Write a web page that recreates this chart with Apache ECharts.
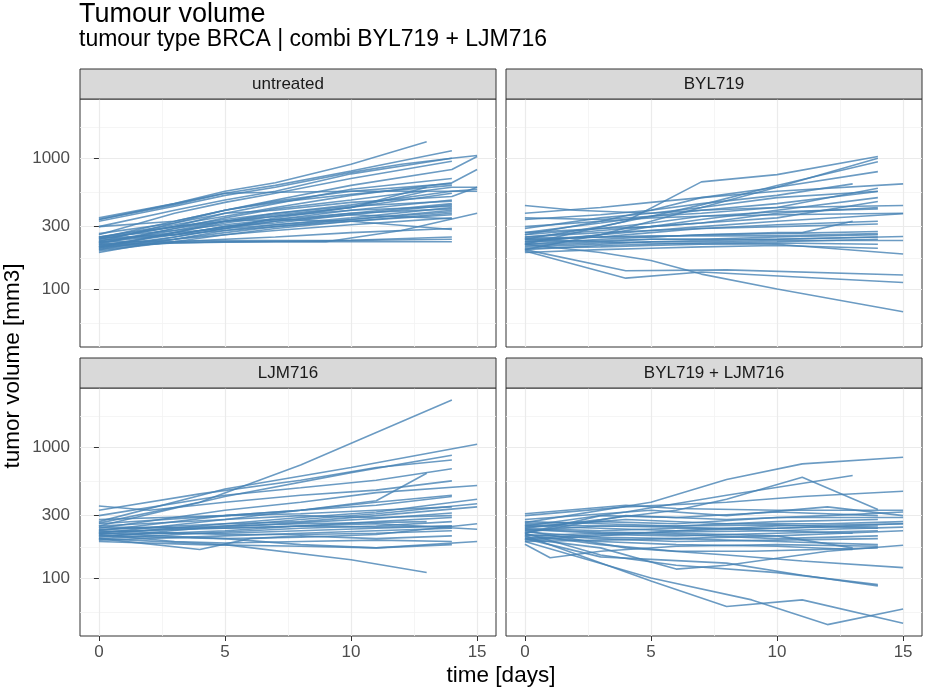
<!DOCTYPE html>
<html>
<head>
<meta charset="utf-8">
<title>Tumour volume</title>
<script src="https://cdn.jsdelivr.net/npm/echarts@6.0.0/dist/echarts.min.js"></script>
<style>
  html, body { margin: 0; padding: 0; background: #fff; }
  #chart { width: 926px; height: 691px; }
</style>
</head>
<body>
<div id="chart"></div>
<script>
// facet labels, same order as the panels below
let panelNames = ['untreated', 'BYL719', 'LJM716', 'BYL719 + LJM716'];

// one array per mouse, points are [day, tumour volume in mm3]
let untreated = [
  [[0,350],[3,450],[5,560],[7,650],[10,900],[13,1340]],
  [[0,340],[3,440],[5,540],[7,620],[10,800],[14,1140]],
  [[0,330],[3,430],[5,520],[7,600],[10,780],[12,900],[14,1000],[15,1050]],
  [[0,300],[3,400],[5,480],[7,560],[10,760],[14,1000]],
  [[0,260],[3,380],[5,460],[7,540],[10,700],[14,950]],
  [[0,230],[3,320],[5,400],[7,480],[10,620],[14,820],[15,1030]],
  [[0,250],[3,310],[5,360],[7,420],[10,520],[14,650],[15,820]],
  [[0,220],[3,290],[5,350],[7,410],[10,480],[14,600],[15,600]],
  [[0,240],[3,300],[5,340],[7,380],[10,440],[14,560],[15,560]],
  [[0,210],[3,270],[5,320],[7,360],[10,420],[14,540]],
  [[0,225],[3,280],[5,310],[7,340],[10,400],[14,480]],
  [[0,200],[3,250],[5,290],[7,330],[10,380],[14,450]],
  [[0,215],[3,260],[5,300],[7,320],[10,370],[14,440]],
  [[0,190],[3,240],[5,280],[7,310],[10,350],[14,420]],
  [[0,205],[3,240],[5,270],[7,300],[10,340],[14,400]],
  [[0,235],[3,270],[5,290],[7,310],[10,340],[14,390]],
  [[0,195],[3,230],[5,260],[7,290],[10,330],[14,380]],
  [[0,245],[3,260],[5,280],[7,300],[10,330],[14,370]],
  [[0,220],[3,240],[5,260],[7,280],[10,310],[14,350]],
  [[0,200],[3,230],[5,240],[7,250],[10,270],[14,290]],
  [[0,210],[3,225],[5,230],[7,232],[10,235],[14,240]],
  [[0,230],[3,232],[5,235],[7,235],[10,236],[14,250]],
  [[0,220],[3,228],[5,230],[7,230],[10,230],[14,230]],
  [[0,215],[3,225],[5,228],[7,230],[9,230],[12,280],[15,380]],
  [[0,250],[3,300],[5,330],[7,340],[10,330],[14,285]],
  [[0,340],[3,450],[5,540],[7,550],[10,560],[14,560],[15,580]],
  [[0,245],[3,330],[5,400],[7,460],[10,530],[14,620]],
  [[0,265],[3,320],[5,380],[7,400],[10,460],[14,510],[15,600]],
  [[0,205],[3,270],[5,330],[7,380],[10,430],[14,470]],
  [[0,225],[3,290],[5,330],[7,360],[10,400],[14,430]],
  [[0,235],[3,260],[5,300],[7,340],[10,380],[14,410]],
  [[0,250],[3,280],[5,330],[7,370],[10,420],[13,600]],
  [[0,210],[3,250],[5,290],[7,350],[10,420],[13,560]],
  [[0,240],[3,300],[5,380],[7,450],[10,580],[14,700]],
  [[0,300],[3,330],[5,400],[7,470],[10,560],[14,640]],
  [[0,228],[3,260],[5,300],[7,330],[10,370],[14,345]]
];

let byl719 = [
  [[0,220],[4,330],[7,660],[10,750],[14,1030]],
  [[0,200],[3,260],[5,330],[7,420],[10,600],[14,1000]],
  [[0,240],[3,300],[5,360],[7,440],[10,620],[14,940]],
  [[0,260],[3,330],[5,400],[7,500],[10,600],[14,790]],
  [[0,435],[2,400],[5,380],[7,420],[10,500],[14,560]],
  [[0,380],[3,420],[5,460],[7,500],[10,560],[15,637]],
  [[0,340],[3,370],[5,400],[7,450],[10,520],[13,637]],
  [[0,350],[3,340],[5,360],[7,380],[10,420],[14,590]],
  [[0,270],[3,320],[5,360],[7,400],[10,450],[14,557]],
  [[0,250],[3,280],[5,300],[7,320],[10,350],[14,467]],
  [[0,290],[3,350],[5,380],[7,400],[10,420],[15,435]],
  [[0,260],[3,290],[5,320],[7,360],[10,390],[14,410]],
  [[0,230],[3,260],[5,280],[7,300],[10,330],[15,376]],
  [[0,220],[3,240],[5,250],[7,260],[10,270],[11,270],[13,330]],
  [[0,250],[3,270],[5,280],[7,290],[10,300],[14,314]],
  [[0,240],[3,250],[5,250],[7,260],[10,265],[14,275]],
  [[0,220],[3,230],[5,240],[7,240],[10,250],[14,260]],
  [[0,210],[3,220],[5,230],[7,235],[10,240],[14,250]],
  [[0,200],[3,215],[5,220],[7,225],[10,230],[14,240]],
  [[0,230],[3,235],[5,240],[7,240],[10,240],[15,252]],
  [[0,215],[3,225],[5,230],[7,230],[10,235],[15,235]],
  [[0,205],[3,210],[5,215],[7,220],[10,225],[14,220]],
  [[0,190],[3,200],[5,205],[7,210],[10,215],[14,205]],
  [[0,240],[3,230],[5,225],[7,222],[10,220],[15,185]],
  [[0,195],[4,121],[7,135],[15,112]],
  [[0,200],[4,138],[8,140],[15,128]],
  [[0,220],[3,190],[5,165],[7,130],[10,100],[15,67]],
  [[0,270],[3,290],[5,300],[7,320],[10,380],[14,420]],
  [[0,300],[3,330],[5,350],[7,360],[10,370],[15,380]],
  [[0,235],[3,250],[5,270],[7,290],[10,310],[14,330]],
  [[0,225],[3,260],[5,300],[7,340],[10,400],[14,500]],
  [[0,245],[3,250],[5,255],[7,255],[10,255],[14,265]]
];

let ljm716 = [
  [[0,263],[4,380],[8,733],[14,2300]],
  [[0,270],[5,480],[10,700],[15,1054]],
  [[0,250],[5,420],[10,640],[14,869]],
  [[0,330],[4,440],[8,560],[11,700],[14,800]],
  [[0,300],[5,430],[8,490],[11,560],[14,684]],
  [[0,230],[5,300],[8,330],[11,390],[13,633]],
  [[0,355],[2,330],[5,380],[8,430],[11,470],[14,553]],
  [[0,240],[5,330],[8,380],[11,450],[15,510]],
  [[0,260],[5,300],[8,330],[11,380],[14,430]],
  [[0,220],[5,280],[8,330],[11,360],[14,420]],
  [[0,215],[5,260],[8,290],[11,320],[15,400]],
  [[0,205],[5,250],[8,280],[11,310],[15,370]],
  [[0,235],[5,260],[8,270],[11,300],[15,350]],
  [[0,225],[5,245],[8,265],[11,285],[14,314]],
  [[0,210],[5,230],[8,250],[11,270],[14,290]],
  [[0,200],[5,225],[8,240],[11,250],[14,270]],
  [[0,220],[5,220],[8,230],[11,240],[14,250]],
  [[0,195],[5,210],[8,220],[11,230],[14,240]],
  [[0,230],[5,215],[8,215],[11,220],[14,230]],
  [[0,210],[5,200],[8,205],[11,215],[15,260]],
  [[0,200],[4,165],[6,200],[8,210],[11,200],[14,210]],
  [[0,215],[3,190],[5,185],[8,190],[11,195],[14,190]],
  [[0,190],[4,180],[8,175],[11,170],[14,180]],
  [[0,220],[5,200],[8,180],[11,170],[15,190]],
  [[0,200],[5,180],[10,138],[13,110]],
  [[0,245],[5,240],[8,250],[11,260],[15,236]],
  [[0,280],[5,300],[8,310],[11,330],[14,350]],
  [[0,250],[5,280],[8,300],[11,290],[14,300]],
  [[0,235],[5,250],[8,260],[11,265],[13,270]],
  [[0,225],[5,240],[8,250],[11,245],[14,250]]
];

let combo = [
  [[0,265],[5,380],[8,566],[11,746],[15,839]],
  [[0,240],[3,280],[6,330],[8,400],[11,590],[14,334]],
  [[0,250],[4,320],[8,430],[13,608]],
  [[0,300],[4,350],[8,380],[11,420],[15,461]],
  [[0,310],[4,360],[6,340],[10,330],[15,330]],
  [[0,280],[5,330],[8,300],[12,350],[15,300]],
  [[0,220],[3,300],[6,290],[10,320],[14,300]],
  [[0,260],[3,270],[6,260],[10,290],[15,290]],
  [[0,230],[3,250],[6,250],[10,270],[14,280]],
  [[0,250],[3,240],[6,230],[10,250],[15,260]],
  [[0,240],[3,230],[6,240],[10,240],[14,250]],
  [[0,210],[3,220],[6,225],[10,230],[15,245]],
  [[0,200],[3,215],[6,210],[10,220],[14,230]],
  [[0,225],[3,205],[6,200],[10,210],[15,230]],
  [[0,235],[3,220],[6,215],[10,200],[14,210]],
  [[0,215],[3,200],[6,190],[10,195],[14,200]],
  [[0,190],[3,195],[6,200],[10,190],[14,180]],
  [[0,205],[3,190],[6,180],[10,175],[13,165]],
  [[0,181],[1,143],[3,160],[6,175],[10,180],[14,175]],
  [[0,200],[3,170],[6,117],[8,125],[12,160],[15,178]],
  [[0,230],[4,170],[8,150],[11,135],[15,120]],
  [[0,220],[3,150],[6,125],[10,110],[14,89]],
  [[0,200],[3,145],[8,130],[11,105],[14,87]],
  [[0,210],[5,95],[8,60.5],[11,68],[15,45]],
  [[0,190],[5,100],[9,68],[12,44],[15,58]],
  [[0,245],[4,280],[8,260],[12,260],[15,270]],
  [[0,270],[3,260],[6,250],[10,255],[14,240]],
  [[0,255],[3,250],[6,245],[10,230],[13,220]],
  [[0,195],[3,210],[6,230],[10,240],[15,260]],
  [[0,235],[3,225],[6,220],[10,210],[13,170]],
  [[0,220],[4,300],[8,280],[12,300],[15,320]],
  [[0,215],[3,180],[6,160],[9,160],[14,170]]
];

let xLimits = [-0.75, 15.75];
let xBreaks = [0, 5, 10, 15];
let xMinorBreaks = [2.5, 7.5, 12.5];
let yLimits = [36, 2840];
let yBreaks = [100, 300, 1000];
let yMinorBreaks = [55, 173, 548, 1732];

let panels = [untreated, byl719, ljm716, combo];
let panelPos = [[80, 99], [506, 99], [80, 388], [506, 388]];
let panelW = 416, panelH = 248, stripH = 30;
let font = "'Liberation Sans', Arial, sans-serif";

let lg = function (v) { return Math.log10(v); };

let myChart = echarts.init(document.getElementById('chart'), null, {renderer: 'canvas'});
let grid = [], xAxis = [], yAxis = [], series = [], graphic = [];

for (let i = 0; i < panels.length; i++) {
  let bottomRow = i >= 2;
  let leftCol = i % 2 === 0;
  grid.push({
    left: panelPos[i][0], top: panelPos[i][1], width: panelW, height: panelH,
    show: true, borderColor: '#333333', borderWidth: 1, backgroundColor: 'transparent'
  });
  // major axes (carry ticks, labels and major grid lines)
  xAxis.push({
    type: 'value', gridIndex: i, min: xLimits[0], max: xLimits[1],
    axisLine: {show: false},
    axisTick: {show: bottomRow, customValues: xBreaks, length: 5, lineStyle: {color: '#333333', width: 1}},
    axisLabel: {show: bottomRow, customValues: xBreaks, margin: 8, color: '#4D4D4D', fontSize: 17, fontFamily: font},
    splitLine: {show: true, lineStyle: {color: '#EBEBEB', width: 1.2}}
  });
  yAxis.push({
    type: 'value', gridIndex: i, min: lg(yLimits[0]), max: lg(yLimits[1]),
    axisLine: {show: false},
    axisTick: {show: leftCol, customValues: yBreaks.map(lg), length: 5, lineStyle: {color: '#333333', width: 1}},
    axisLabel: {
      show: leftCol, customValues: yBreaks.map(lg), margin: 10, color: '#4D4D4D', fontSize: 17, fontFamily: font,
      formatter: function (v) { return Math.round(Math.pow(10, v)); }
    },
    splitLine: {show: true, lineStyle: {color: '#EBEBEB', width: 1.2}}
  });
}
// minor grid lines on hidden axes
for (let i = 0; i < panels.length; i++) {
  xAxis.push({
    type: 'value', gridIndex: i, min: xLimits[0], max: xLimits[1],
    axisLine: {show: false}, axisLabel: {show: false},
    axisTick: {show: false, customValues: xMinorBreaks},
    splitLine: {show: true, lineStyle: {color: '#F2F2F2', width: 0.8}}
  });
  yAxis.push({
    type: 'value', gridIndex: i, min: lg(yLimits[0]), max: lg(yLimits[1]),
    axisLine: {show: false}, axisLabel: {show: false},
    axisTick: {show: false, customValues: yMinorBreaks.map(lg)},
    splitLine: {show: true, lineStyle: {color: '#F2F2F2', width: 0.8}}
  });
}

for (let i = 0; i < panels.length; i++) {
  panels[i].forEach(function (mouse) {
    series.push({
      type: 'line', xAxisIndex: i, yAxisIndex: i,
      data: mouse.map(function (p) { return [p[0], lg(p[1])]; }),
      symbol: 'none', showSymbol: false, silent: true, z: 3,
      lineStyle: {color: '#4682B4', width: 1.6, opacity: 0.8}
    });
  });
  // facet strip
  graphic.push({
    type: 'rect', silent: true, z: 10,
    shape: {x: panelPos[i][0], y: panelPos[i][1] - stripH, width: panelW, height: stripH},
    style: {fill: '#D9D9D9', stroke: '#333333', lineWidth: 1}
  });
  graphic.push({
    type: 'text', silent: true, z: 11,
    x: panelPos[i][0] + panelW / 2, y: panelPos[i][1] - stripH / 2 + 0.5,
    style: {text: panelNames[i], fill: '#1A1A1A', font: '17px ' + font, textAlign: 'center', textVerticalAlign: 'middle'}
  });
}

graphic.push({
  type: 'text', silent: true, x: 79, y: 15,
  style: {text: 'Tumour volume', fill: '#000', font: '27px ' + font, textAlign: 'left', textVerticalAlign: 'middle'}
});
graphic.push({
  type: 'text', silent: true, x: 79, y: 40,
  style: {text: 'tumour type BRCA | combi BYL719 + LJM716', fill: '#000', font: '23px ' + font, textAlign: 'left', textVerticalAlign: 'middle'}
});
graphic.push({
  type: 'text', silent: true, x: 501, y: 676,
  style: {text: 'time [days]', fill: '#000', font: '22.5px ' + font, textAlign: 'center', textVerticalAlign: 'middle'}
});
graphic.push({
  type: 'text', silent: true, x: 13, y: 366, rotation: Math.PI / 2,
  style: {text: 'tumor volume [mm3]', fill: '#000', font: '22.5px ' + font, textAlign: 'center', textVerticalAlign: 'middle'}
});

let option = {
  backgroundColor: '#FFFFFF',
  animation: false,
  grid: grid,
  xAxis: xAxis,
  yAxis: yAxis,
  series: series,
  graphic: graphic
};
myChart.setOption(option);
</script>
</body>
</html>
